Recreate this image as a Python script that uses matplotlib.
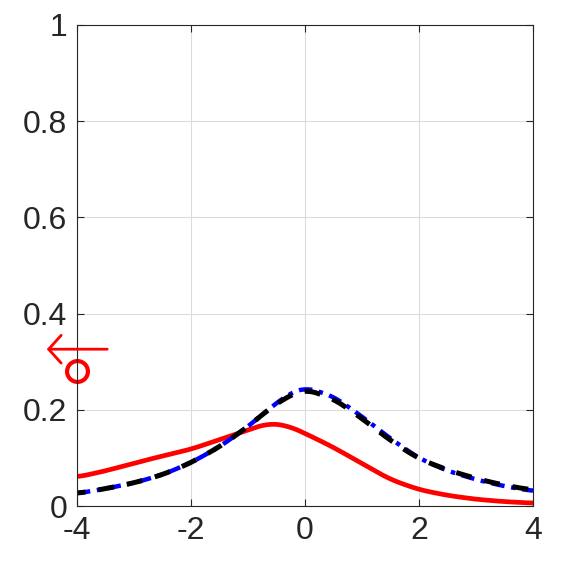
import numpy as np
import matplotlib
matplotlib.use('Agg')
import matplotlib.pyplot as plt

# curves
x_pts = [-4, -3.5, -3, -2.5, -2, -1.5, -1, -0.65, -0.3, 0, 0.5, 1, 1.5, 2, 2.5, 3, 3.5, 4]
red_y = [0.060, 0.073, 0.089, 0.104, 0.118, 0.138, 0.158, 0.172, 0.167, 0.151, 0.122, 0.088, 0.055, 0.034, 0.022, 0.014, 0.009, 0.006]
blue_y = [0.026, 0.036, 0.048, 0.065, 0.090, 0.123, 0.165, 0.200, 0.232, 0.247, 0.228, 0.186, 0.140, 0.099, 0.073, 0.055, 0.041, 0.031]
black_y = [0.026, 0.036, 0.048, 0.065, 0.090, 0.123, 0.165, 0.200, 0.228, 0.243, 0.223, 0.182, 0.136, 0.098, 0.075, 0.057, 0.043, 0.033]

marker_pt = (-4.0, 0.28)
arrow_tail = (-3.47, 0.326)
arrow_tip = (-4.53, 0.326)

x_ticks = [-4, -2, 0, 2, 4]
y_ticks = [0, 0.2, 0.4, 0.6, 0.8, 1]
y_labels = ['0', '0.2', '0.4', '0.6', '0.8', '1']

plt.rcParams['font.family'] = ['Liberation Sans', 'DejaVu Sans']

fig = plt.figure(figsize=(5.71, 5.71), dpi=100)
ax = fig.add_axes([77 / 571, 1 - 506 / 571, 456 / 571, 481 / 571])

xs = np.linspace(-4, 4, 600)
def smooth(xp, yp, w=31):
    ys = np.interp(xs, xp, yp)
    pad = np.pad(ys, w // 2, mode='edge')
    return np.convolve(pad, np.ones(w) / w, mode='valid')

ax.plot(xs, smooth(x_pts, red_y), color='red', lw=3.4)
ax.plot(xs, smooth(x_pts, blue_y), color='blue', lw=3.2, ls=(0, (3, 1.5, 1, 1.5)))
ax.plot(xs, smooth(x_pts, black_y), color='black', lw=3.6, ls=(1.5, (3.2, 2.6)))

ax.plot(*marker_pt, 'o', mfc='none', mec='red', mew=3, ms=15, clip_on=False)
ax.annotate('', xy=arrow_tip, xytext=arrow_tail, annotation_clip=False,
            arrowprops=dict(arrowstyle='->,head_length=0.9,head_width=1.0',
                            color='red', lw=2, shrinkA=0, shrinkB=0))

ax.set_xlim(-4, 4)
ax.set_ylim(0, 1)
ax.set_xticks(x_ticks)
ax.set_xticklabels([str(t) for t in x_ticks])
ax.set_yticks(y_ticks)
ax.set_yticklabels(y_labels)
ax.tick_params(direction='in', length=5, labelsize=23, colors='#262626',
               top=True, right=True, pad=7)
ax.grid(True, color='#dcdcdc', lw=0.8)
for s in ax.spines.values():
    s.set_color('#262626')
    s.set_linewidth(0.8)

fig.savefig('out.png', dpi=100)
